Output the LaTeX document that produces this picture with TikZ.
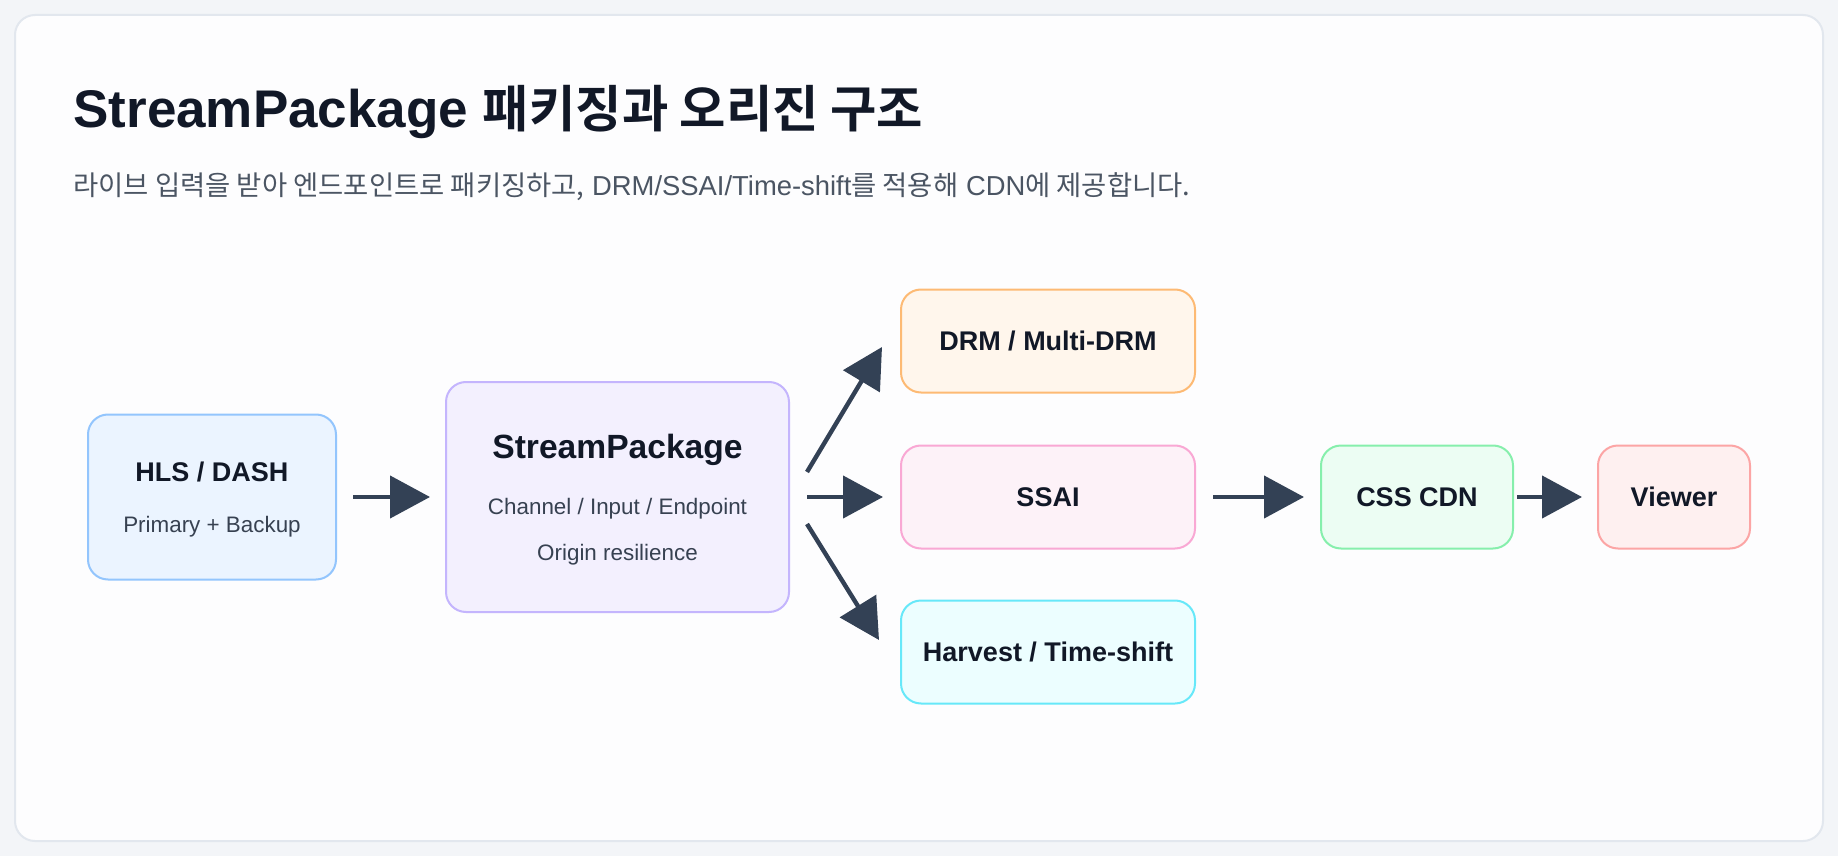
\documentclass[tikz,border=0pt]{standalone}
\usepackage{fontspec}
\setmainfont{Liberation Sans}
\newfontfamily\kr{Noto Sans CJK KR}[BoldFont={Noto Sans CJK KR Bold}]
\usetikzlibrary{arrows.meta, positioning, calc}
\definecolor{page}{HTML}{F3F5F8}
\definecolor{card}{HTML}{FDFDFE}
\definecolor{cardline}{HTML}{E2E7EE}
\definecolor{ink}{HTML}{111827}
\definecolor{inksub}{HTML}{374151}
\definecolor{inkgrey}{HTML}{4B5563}
\definecolor{arrowc}{HTML}{334155}
\definecolor{blu}{HTML}{93C5FD}
\definecolor{blulight}{HTML}{EBF4FF}
\definecolor{vio}{HTML}{C4B5FD}
\definecolor{violight}{HTML}{F3F0FE}
\definecolor{org}{HTML}{FDBA74}
\definecolor{orglight}{HTML}{FFF6EC}
\definecolor{pnk}{HTML}{F9A8D4}
\definecolor{pnklight}{HTML}{FDF2F8}
\definecolor{cyn}{HTML}{67E8F9}
\definecolor{cynlight}{HTML}{ECFEFF}
\definecolor{grn}{HTML}{86EFAC}
\definecolor{grnlight}{HTML}{ECFDF3}
\definecolor{rose}{HTML}{FCA5A5}
\definecolor{roselight}{HTML}{FEF0F0}
\newcommand{\subtxt}{\mdseries\fontsize{11.2}{14}\selectfont\color{inksub}}

\begin{document}
\begin{tikzpicture}[x=0.5pt, y=-0.5pt,
      box/.style={line width=1pt, rounded corners=10pt, align=center, text=ink,
                  font=\fontsize{13.5}{16}\selectfont\bfseries},
      arr/.style={-{Triangle[length=20pt, width=21pt]}, line width=2.2pt, arrowc}]
    \useasboundingbox (0,0) rectangle (1838,856);
    \fill[page] (0,0) rectangle (1838,856);
    \draw[cardline, fill=card, line width=1pt, rounded corners=10pt] (15,15) rectangle (1823,841);
    \node[anchor=base west, inner sep=0, text=ink, font=\fontsize{26.5}{30}\selectfont\bfseries] (title) at (73,127)
      {StreamPackage {\kr\fontsize{25.2}{30}\selectfont 패키징과 오리진 구조}};
    \node[anchor=base west, inner sep=0, text=inkgrey, font=\fontsize{13.7}{16}\selectfont] (subtitle) at (73,196)
      {{\kr 라이브 입력을 받아 엔드포인트로 패키징하고,} DRM/SSAI/Time-shift{\kr 를 적용해} CDN{\kr 에 제공합니다.}};

    \node[box, draw=blu, fill=blulight, minimum width=124pt, minimum height=82.5pt] (hls) at (212,497)
      {\rule{0pt}{12.5pt}HLS / DASH\\[9.2pt]{\subtxt Primary + Backup}};
    \node[box, draw=vio, fill=violight, minimum width=171.5pt, minimum height=115pt, right=54pt of hls] (sp)
      {\rule{0pt}{14.8pt}{\fontsize{16.8}{16}\selectfont StreamPackage}\\[12.25pt]{\subtxt Channel / Input / Endpoint}\\[7.2pt]{\subtxt Origin resilience}};
    \node[box, draw=pnk, fill=pnklight, minimum width=147pt, minimum height=51.5pt, right=55pt of sp] (ssai) {SSAI};
    \node[box, draw=org, fill=orglight, minimum width=147pt, minimum height=51.5pt, above=25.5pt of ssai] (drm) {DRM / Multi-DRM};
    \node[box, draw=cyn, fill=cynlight, minimum width=147pt, minimum height=51.5pt, below=25pt of ssai] (harvest) {Harvest / Time-shift};
    \node[box, draw=grn, fill=grnlight, minimum width=96pt, minimum height=51.5pt, right=62pt of ssai] (cdn) {CSS CDN};
    \node[box, draw=rose, fill=roselight, minimum width=76pt, minimum height=51.5pt, right=41.5pt of cdn] (viewer) {Viewer};

    \draw[arr, shorten <=8pt, shorten >=7.5pt] (hls) -- (sp);
    \draw[arr, shorten <=8.5pt, shorten >=8.5pt] (sp) -- (ssai);
    \draw[arr] ($(sp.east)+(17,-25)$) -- ($(drm.west)+(-18,6)$);
    \draw[arr] ($(sp.east)+(17,27)$) -- ($(harvest.west)+(-21,-12)$);
    \draw[arr, shorten <=8.5pt, shorten >=8pt] (ssai) -- (cdn);
    \draw[arr, shorten <=1.5pt, shorten >=7.5pt] (cdn) -- (viewer);
  \end{tikzpicture}
\end{document}
